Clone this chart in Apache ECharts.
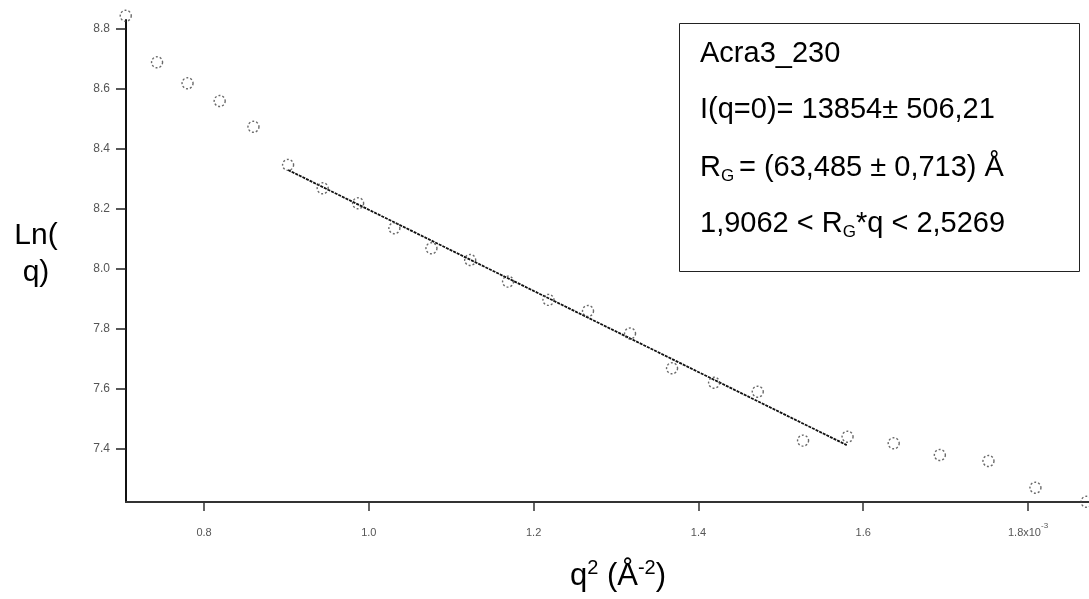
<!DOCTYPE html>
<html>
<head>
<meta charset="utf-8">
<script src="https://cdn.jsdelivr.net/npm/echarts@6/dist/echarts.min.js"></script>
<style>
  html, body { margin: 0; padding: 0; background: #fff; }
  #chart { width: 1089px; height: 599px; }
</style>
</head>
<body>
<div id="chart"></div>
<script>
// Guinier plot: ln I versus q² (q² in units of 10^-3 Å^-2)
const q2 = [0.705, 0.743, 0.780, 0.819, 0.860, 0.902, 0.944, 0.987, 1.031, 1.076,
            1.123, 1.169, 1.218, 1.266, 1.317, 1.368, 1.419, 1.472, 1.527, 1.581,
            1.637, 1.693, 1.752, 1.809, 1.871];
const lnI = [8.844, 8.689, 8.619, 8.560, 8.474, 8.347, 8.269, 8.219, 8.136, 8.069,
             8.030, 7.958, 7.897, 7.860, 7.785, 7.669, 7.621, 7.591, 7.428, 7.441,
             7.419, 7.380, 7.360, 7.271, 7.224];

// Linear Guinier fit over the fitted q range
const fitQ2 = [0.902, 1.580];
const fitLnI = [8.330, 7.413];

// Tick values
const xTicks = [0.8, 1.0, 1.2, 1.4, 1.6, 1.8];
const yTicks = [7.4, 7.6, 7.8, 8.0, 8.2, 8.4, 8.6, 8.8];

// Fit results
const sampleName = 'Acra3_230';
const i0Text = 'I(q=0)= 13854± 506,21';
const rgText = '= (63,485 ± 0,713) Å';
const rangeLow = '1,9062 < R';
const rangeHigh = '*q < 2,5269';

const FONT = "'Liberation Sans', Arial, sans-serif";

const chart = echarts.init(document.getElementById('chart'), null, { renderer: 'canvas' });

const pointData = q2.map((x, i) => [x, lnI[i]]);
const fitData = fitQ2.map((x, i) => [x, fitLnI[i]]);

chart.setOption({
  animation: false,
  backgroundColor: '#ffffff',
  grid: { left: 126, right: 0, top: 20, bottom: 97 },
  xAxis: {
    type: 'value',
    min: 0.7053,
    max: 1.874,
    splitLine: { show: false },
    axisLine: { show: true, onZero: false, lineStyle: { color: '#333', width: 2 } },
    axisTick: {
      show: true, inside: false, length: 9, customValues: xTicks,
      lineStyle: { color: '#333', width: 1.5 }
    },
    axisLabel: {
      customValues: xTicks,
      margin: 20,
      color: '#555',
      fontFamily: FONT,
      fontSize: 11,
      formatter: v => (Math.abs(v - 1.8) < 1e-9 ? '{n|1.8x10}{s|-3}' : '{n|' + v.toFixed(1) + '}'),
      rich: {
        n: { fontSize: 11, color: '#555', fontFamily: FONT, lineHeight: 16, verticalAlign: 'bottom' },
        s: { fontSize: 8, color: '#555', fontFamily: FONT, lineHeight: 16, verticalAlign: 'top' }
      }
    }
  },
  yAxis: {
    type: 'value',
    min: 7.2233,
    max: 8.83,
    splitLine: { show: false },
    axisLine: { show: true, onZero: false, lineStyle: { color: '#111', width: 2 } },
    axisTick: {
      show: true, inside: false, length: 10, customValues: yTicks,
      lineStyle: { color: '#222', width: 1.5 }
    },
    axisLabel: {
      customValues: yTicks,
      margin: 16,
      color: '#555',
      fontFamily: FONT,
      fontSize: 12,
      formatter: v => v.toFixed(1)
    }
  },
  series: [
    {
      type: 'line',
      data: fitData,
      showSymbol: false,
      symbol: 'none',
      lineStyle: { color: '#111', width: 1.8, type: [3, 1] },
      z: 2
    },
    {
      type: 'scatter',
      data: pointData,
      clip: false,
      symbol: 'circle',
      symbolSize: 11,
      itemStyle: {
        color: 'rgba(255,255,255,0)',
        borderColor: '#444',
        borderWidth: 1.4,
        borderType: [2, 2]
      },
      z: 3
    }
  ],
  graphic: [
    // y-axis title
    {
      type: 'text',
      x: 36, y: 254,
      style: {
        text: 'Ln(\nq)',
        font: '30px ' + FONT,
        fill: '#000',
        align: 'center',
        verticalAlign: 'middle',
        lineHeight: 37
      }
    },
    // x-axis title
    {
      type: 'text',
      x: 618, y: 575,
      style: {
        text: '{m|q}{s|2}{m| (Å}{s|-2}{m|)}',
        align: 'center',
        verticalAlign: 'middle',
        rich: {
          m: { font: '31px ' + FONT, fill: '#000', lineHeight: 34, verticalAlign: 'bottom' },
          s: { font: '20px ' + FONT, fill: '#000', lineHeight: 34, verticalAlign: 'top' }
        }
      }
    },
    // results box
    {
      type: 'rect',
      shape: { x: 679.5, y: 23.5, width: 400, height: 248 },
      style: { fill: '#fff', stroke: '#222', lineWidth: 1 },
      z: 10
    },
    {
      type: 'text', x: 700, y: 54, z: 11,
      style: { text: sampleName, font: '29px ' + FONT, fill: '#000', verticalAlign: 'middle' }
    },
    {
      type: 'text', x: 700, y: 110, z: 11,
      style: { text: i0Text, font: '29px ' + FONT, fill: '#000', verticalAlign: 'middle' }
    },
    {
      type: 'text', x: 700, y: 168, z: 11,
      style: {
        text: '{m|R}{g|G }{m|' + rgText + '}',
        verticalAlign: 'middle',
        rich: {
          m: { font: '29px ' + FONT, fill: '#000', lineHeight: 34, verticalAlign: 'middle' },
          g: { font: '17px ' + FONT, fill: '#000', lineHeight: 34, verticalAlign: 'bottom' }
        }
      }
    },
    {
      type: 'text', x: 700, y: 224, z: 11,
      style: {
        text: '{m|' + rangeLow + '}{g|G}{m|' + rangeHigh + '}',
        verticalAlign: 'middle',
        rich: {
          m: { font: '29px ' + FONT, fill: '#000', lineHeight: 34, verticalAlign: 'middle' },
          g: { font: '17px ' + FONT, fill: '#000', lineHeight: 34, verticalAlign: 'bottom' }
        }
      }
    }
  ]
});
</script>
</body>
</html>
